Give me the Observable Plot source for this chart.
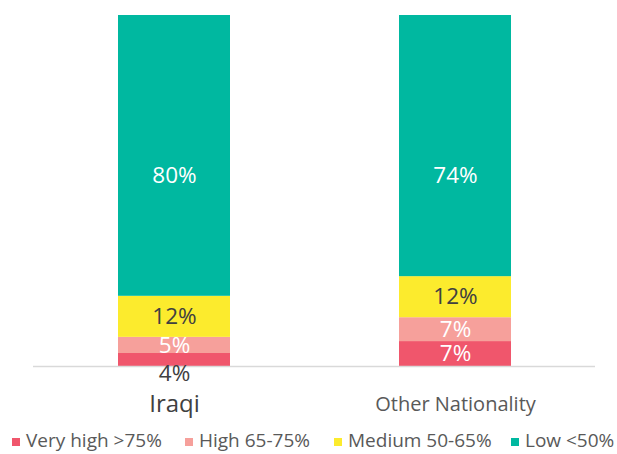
<!DOCTYPE html>
<html>
<head>
<meta charset="utf-8">
<script src="https://cdn.jsdelivr.net/npm/d3@7"></script>
<script src="https://cdn.jsdelivr.net/npm/@observablehq/plot@0.6"></script>
<style>
  html, body { margin: 0; padding: 0; background: #fff; }
  body { width: 617px; height: 454px; overflow: hidden; font-family: "Open Sans", sans-serif; }
  #chart svg { display: block; }
  #legend { position: relative; height: 32px; }
  .item { position: absolute; top: 8px; display: flex; align-items: center; font-size: 19px; line-height: 21px; color: #595959; white-space: nowrap; }
  .sw { width: 8px; height: 8px; margin-right: 6px; margin-top: 3px; }
</style>
</head>
<body>
<div id="chart"></div>
<div id="legend"></div>
<script>
const categories = ["Iraqi", "Other Nationality"];
const series = ["Very high >75%", "High 65-75%", "Medium 50-65%", "Low <50%"];
const colors = ["#F0566C", "#F6A09B", "#FCEB2D", "#00B8A0"];
const veryHigh = [3.7, 7.1];
const high = [4.6, 6.8];
const medium = [11.7, 11.7];
const low = [80.0, 74.4];

const seriesValues = [veryHigh, high, medium, low];
const rows = [];
categories.forEach((c, i) => {
  series.forEach((s, j) => {
    rows.push({category: c, series: s, value: seriesValues[j][i], si: j});
  });
});

const topLabelY = 54.3; // label height for the top (Low) segment
const isOutside = d => d.si === 0 && d.value < 5;

const labelRows = [];
categories.forEach(c => {
  let base = 0;
  rows.filter(r => r.category === c).forEach(r => {
    let y = base + r.value / 2;
    if (r.si === 3) y = topLabelY;
    labelRows.push({...r, y});
    base += r.value;
  });
});

const chart = Plot.plot({
  width: 617,
  height: 422,
  marginTop: 15,
  marginBottom: 56,
  marginLeft: 33,
  marginRight: 22,
  style: {fontFamily: "'Open Sans', sans-serif", background: "#fff"},
  x: {domain: categories, paddingInner: 0.603, paddingOuter: 0.298, axis: null},
  y: {domain: [0, 100], axis: null},
  color: {domain: series, range: colors},
  marks: [
    Plot.barY(rows, {x: "category", y: "value", fill: "series", order: series, inset: 0}),
    Plot.ruleY([0], {stroke: "#d9d9d9", strokeWidth: 1.5}),
    Plot.text(labelRows.filter(d => !isOutside(d)), {
      x: "category", y: "y", text: d => Math.round(d.value) + "%",
      fill: d => d.si === 2 ? "#404040" : "#ffffff", fontSize: 22.5
    }),
    Plot.text(labelRows.filter(isOutside), {
      x: "category", y: "y", dy: 14, text: d => Math.round(d.value) + "%",
      fill: "#404040", fontSize: 22.5
    }),
    Plot.text(categories, {
      x: d => d, y: 0, dy: 38,
      text: d => d,
      fontSize: d => d === "Iraqi" ? 24 : 20,
      fill: d => d === "Iraqi" ? "#404040" : "#595959"
    })
  ]
});
document.getElementById("chart").appendChild(chart);

const legendPos = [12, 185, 334, 511];
const legend = document.getElementById("legend");
series.forEach((s, i) => {
  const item = document.createElement("div");
  item.className = "item";
  item.style.left = legendPos[i] + "px";
  const sw = document.createElement("span");
  sw.className = "sw";
  sw.style.background = colors[i];
  const t = document.createElement("span");
  t.textContent = s;
  item.appendChild(sw);
  item.appendChild(t);
  legend.appendChild(item);
});
</script>
</body>
</html>
